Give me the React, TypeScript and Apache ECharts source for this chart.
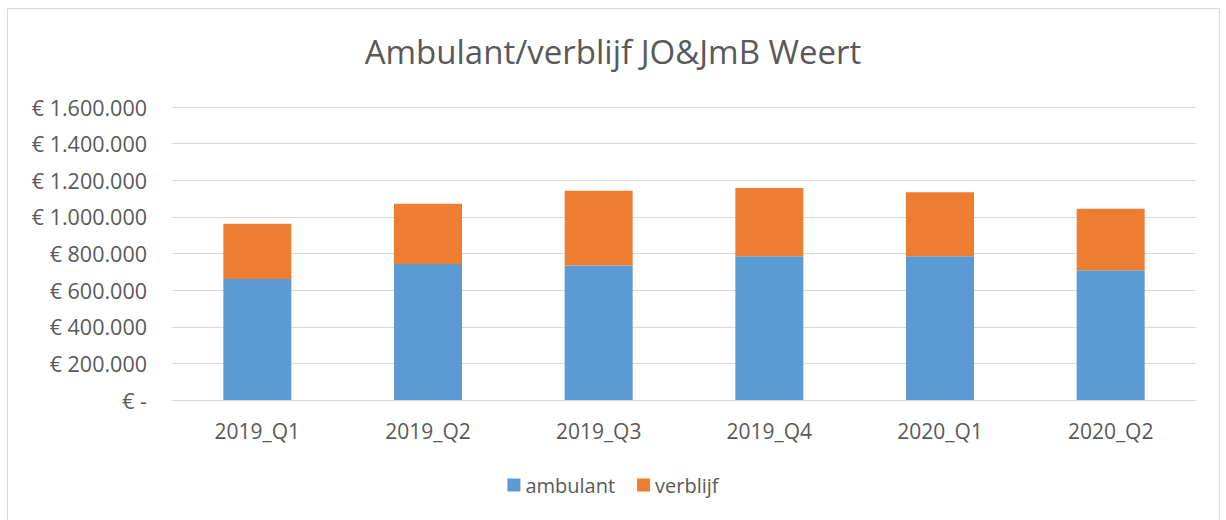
import React, { useEffect, useRef } from "react";
import * as echarts from "echarts";

const categories = ["2019_Q1", "2019_Q2", "2019_Q3", "2019_Q4", "2020_Q1", "2020_Q2"];
const ambulant = [661000, 743000, 735000, 785000, 785000, 709000];
const verblijf = [301000, 328000, 407000, 372000, 350000, 335000];
const yTicks = [0, 200000, 400000, 600000, 800000, 1000000, 1200000, 1400000, 1600000];

const FONT = "'Open Sans', sans-serif";
const TEXT = "#595959";

function fmt(v: number): string {
  if (v === 0) return "€ -";
  return "€ " + String(Math.round(v)).replace(/\B(?=(\d{3})+(?!\d))/g, ".");
}

export default function App() {
  const ref = useRef<HTMLDivElement>(null);
  useEffect(() => {
    if (!ref.current) return;
    const chart = echarts.init(ref.current, undefined, { renderer: "svg" });
    chart.setOption({
      animation: false,
      backgroundColor: "#ffffff",
      title: {
        text: "Ambulant/verblijf JO&JmB Weert",
        left: "center",
        top: 30,
        textStyle: { fontFamily: FONT, fontSize: 33, fontWeight: "normal", color: TEXT },
      },
      graphic: [
        {
          type: "rect",
          shape: { x: 7.5, y: 8.5, width: 1212, height: 530 },
          style: { fill: "none", stroke: "#d9d9d9", lineWidth: 1 },
          silent: true,
        },
      ],
      legend: {
        bottom: 20,
        left: "center",
        itemWidth: 13,
        itemHeight: 13,
        itemGap: 22,
        icon: "rect",
        textStyle: { fontFamily: FONT, fontSize: 20, color: TEXT },
        data: ["ambulant", "verblijf"],
      },
      grid: { left: 172, right: 30, top: 107, bottom: 120 },
      xAxis: {
        type: "category",
        data: categories,
        axisLine: { show: true, lineStyle: { color: "#d9d9d9" } },
        axisTick: { show: false },
        axisLabel: { fontFamily: FONT, fontSize: 21, color: TEXT, margin: 20 },
      },
      yAxis: {
        type: "value",
        min: yTicks[0],
        max: yTicks[yTicks.length - 1],
        interval: 200000,
        axisLine: { show: false },
        axisTick: { show: false },
        splitLine: { lineStyle: { color: "#d9d9d9" } },
        axisLabel: {
          fontFamily: FONT,
          fontSize: 21.5,
          color: TEXT,
          margin: 25,
          formatter: (v: number) => fmt(v),
        },
      },
      series: [
        {
          name: "ambulant",
          type: "bar",
          stack: "total",
          data: ambulant,
          barWidth: 68,
          itemStyle: { color: "#5b9bd5" },
        },
        {
          name: "verblijf",
          type: "bar",
          stack: "total",
          data: verblijf,
          barWidth: 68,
          itemStyle: { color: "#ed7d31" },
        },
      ],
    });
    return () => chart.dispose();
  }, []);
  return (
    <div
      ref={ref}
      style={{ position: "fixed", left: 0, top: 0, width: 1226, height: 520 }}
    />
  );
}
